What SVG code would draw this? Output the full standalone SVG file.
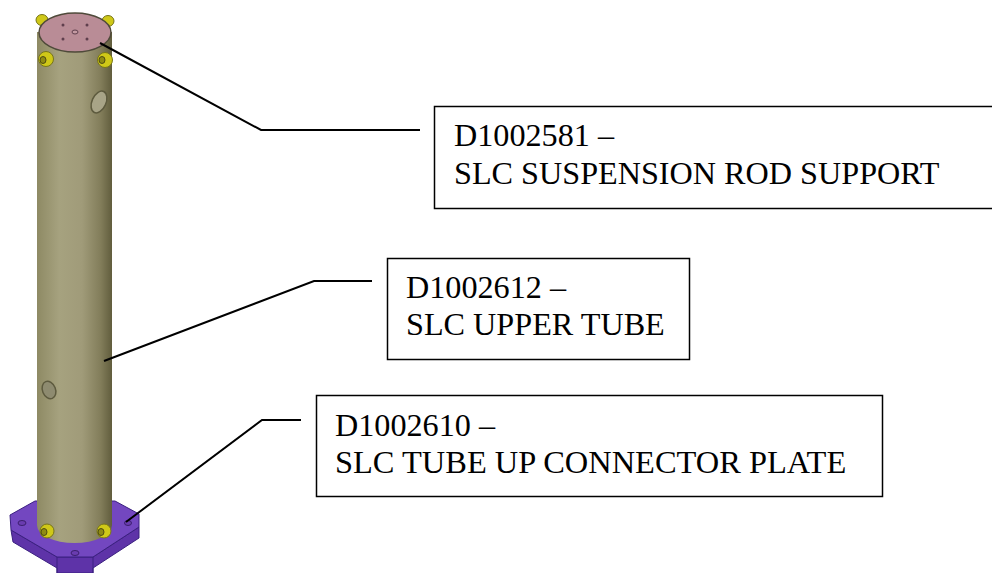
<svg xmlns="http://www.w3.org/2000/svg" width="992" height="573" viewBox="0 0 992 573">
<style>
.box{fill:#fff;stroke:#000;stroke-width:1.500}
.lead{fill:none;stroke:#000;stroke-width:2}
text{font-family:"Liberation Serif","Times New Roman",serif;font-size:32.200px;fill:#000}
.wide{font-size:32.450px}
.bolt{fill:#cfc818;stroke:#77751a;stroke-width:1}
.boltc{fill:#8f8b14;stroke:#4e4c10;stroke-width:1}
.hole{fill:#6a3cb0;stroke:#3b1f6e;stroke-width:1}
.pin{fill:#5f3f4d}
</style>
<defs>
<linearGradient id="tube" x1="0" x2="1" y1="0" y2="0">
<stop offset="0" stop-color="#8e8a64"/>
<stop offset="0.3" stop-color="#a6a27f"/>
<stop offset="0.6" stop-color="#a09b79"/>
<stop offset="0.85" stop-color="#827d5a"/>
<stop offset="1" stop-color="#615d3d"/>
</linearGradient>
</defs>
<rect width="992" height="573" fill="#fff"/>
<g id="assembly">
<g id="plate">
<path d="M11 530 L57 557 L93 557 L139 527 L139 538 L93 568 L93 573 L57 573 L57 568 L13 542 Z" fill="#5e33a8" stroke="#3b2080" stroke-width="1"/>
<path d="M57 557 L57 573 M93 557 L93 573" fill="none" stroke="#3b2080" stroke-width="1"/>
<path d="M10 515 L35 501 L115 501 L139 514 L139 527 L93 557 L57 557 L11 530 Z" fill="#7347c0" stroke="#3b2080" stroke-width="1"/>
<ellipse class="hole" cx="22" cy="523" rx="4" ry="2.500"/>
<ellipse class="hole" cx="75" cy="553" rx="4" ry="2.500"/>
<ellipse class="hole" cx="128" cy="523" rx="3.500" ry="2.500"/>
</g>
<g id="tube-body">
<path d="M37 32 L37 525 A37.500 18 0 0 0 112 525 L112 32 Z" fill="url(#tube)"/>
<ellipse cx="99" cy="102" rx="7" ry="11.500" transform="rotate(24 99 102)" fill="#a8a487" stroke="#5d5a3e" stroke-width="1.500"/>
<ellipse cx="49" cy="390" rx="6.500" ry="9" transform="rotate(-22 49 390)" fill="#8e8b70" stroke="#5d5a3e" stroke-width="1.500"/>
</g>
<g id="bolts">
<ellipse class="bolt" cx="42" cy="20" rx="6" ry="5.500"/>
<ellipse class="bolt" cx="108" cy="21" rx="6" ry="5.500"/>
<ellipse class="bolt" cx="46" cy="59" rx="7.500" ry="7.500"/>
<ellipse class="boltc" cx="43" cy="60" rx="3" ry="3.500"/>
<ellipse class="bolt" cx="105" cy="60" rx="7.500" ry="7.500"/>
<ellipse class="boltc" cx="102" cy="60" rx="3" ry="3.500"/>
<ellipse class="bolt" cx="47" cy="531" rx="7" ry="7"/>
<ellipse class="boltc" cx="44" cy="532" rx="3" ry="3.500"/>
<ellipse class="bolt" cx="104" cy="531" rx="7" ry="7"/>
<ellipse class="boltc" cx="101" cy="532" rx="3" ry="3.500"/>
</g>
<g id="top-plate">
<ellipse cx="75" cy="32.500" rx="36" ry="19.500" fill="#b98c96" stroke="#4f4a3a" stroke-width="1.500"/>
<circle class="pin" cx="63" cy="25" r="1.500"/>
<circle class="pin" cx="87" cy="25" r="1.500"/>
<circle class="pin" cx="63" cy="39" r="1.500"/>
<circle class="pin" cx="87" cy="39" r="1.500"/>
<ellipse cx="75" cy="32" rx="3" ry="2" fill="#c49aa2" stroke="#5f3f4d" stroke-width="1"/>
</g>
</g>
<g id="connectors">
<path class="lead" d="M100 43 L261 130 L420 130"/>
<path class="lead" d="M104 361 L314 281 L372 281"/>
<path class="lead" d="M126 522 L262 420 L301 420"/>
</g>
<g id="node-d1002581">
<rect class="box" x="434.500" y="106.500" width="570" height="102"/>
<text x="454" y="146">D1002581 –</text>
<text x="454" y="184">SLC SUSPENSION ROD SUPPORT</text>
</g>
<g id="node-d1002612">
<rect class="box" x="387.500" y="258.500" width="302" height="101"/>
<text x="406" y="298">D1002612 –</text>
<text x="406" y="335">SLC UPPER TUBE</text>
</g>
<g id="node-d1002610">
<rect class="box" x="316.500" y="395.500" width="566" height="101"/>
<text x="335" y="436">D1002610 –</text>
<text class="wide" x="335" y="473">SLC TUBE UP CONNECTOR PLATE</text>
</g>
</svg>
